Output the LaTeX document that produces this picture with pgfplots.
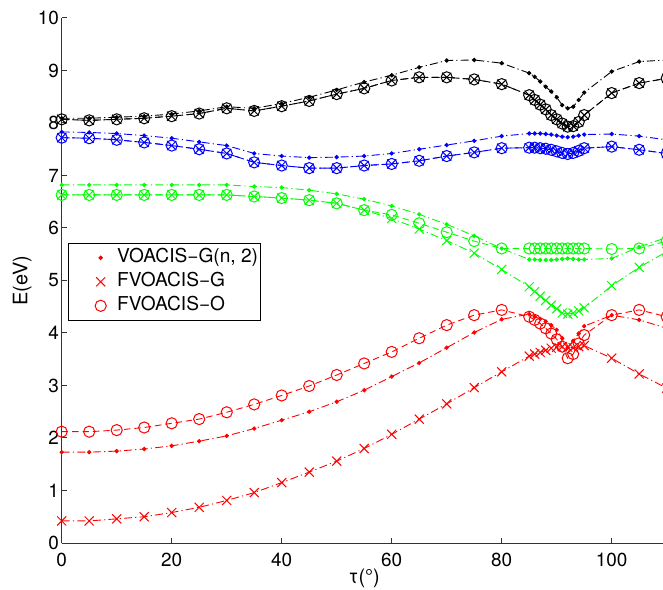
\documentclass[border=0pt]{standalone}
\usepackage{fontspec}
\setmainfont{TeX Gyre Heros}
\usepackage{pgfplots}
\usepackage{pgfplotstable}
\pgfplotsset{compat=1.18}

\definecolor{mred}{rgb}{1,0,0}
\definecolor{mgreen}{rgb}{0,1,0}
\definecolor{mblue}{rgb}{0,0,1}

% Excitation energies against the torsion angle tau.
% kd/bd/gd/rd : VOACIS-G(n,2)   kc/bc/gc/rc : FVOACIS-O   gx/rx : FVOACIS-G
\pgfplotstableread{
t    kd    kc    bd    bc    gd    gc    gx    rd    rc    rx
0    8.09  8.07  7.83  7.72  6.82  6.63  6.63  1.73  2.12  0.42
5    8.09  8.05  7.82  7.71  6.82  6.63  6.63  1.73  2.12  0.42
10   8.11  8.07  7.80  7.68  6.82  6.63  6.63  1.75  2.15  0.46
15   8.13  8.09  7.76  7.63  6.82  6.63  6.63  1.79  2.20  0.50
20   8.17  8.13  7.71  7.57  6.82  6.63  6.63  1.85  2.28  0.58
25   8.23  8.18  7.64  7.50  6.82  6.63  6.63  1.94  2.36  0.68
30   8.31  8.28  7.57  7.42  6.82  6.63  6.63  2.04  2.49  0.81
35   8.28  8.23  7.42  7.25  6.79  6.60  6.60  2.18  2.64  0.96
40   8.37  8.32  7.37  7.19  6.77  6.57  6.57  2.34  2.81  1.15
45   8.49  8.42  7.34  7.14  6.72  6.53  6.53  2.50  2.99  1.35
50   8.63  8.55  7.35  7.14  6.65  6.47  6.47  2.69  3.20  1.56
55   8.78  8.66  7.37  7.19  6.55  6.34  6.34  2.91  3.42  1.80
60   8.91  8.81  7.42  7.22  6.42  6.25  6.18  3.17  3.64  2.07
65   9.06  8.87  7.50  7.28  6.26  6.09  5.98  3.43  3.90  2.36
70   9.19  8.87  7.58  7.37  6.07  5.92  5.76  3.72  4.15  2.65
75   9.20  8.83  7.66  7.44  5.85  5.75  5.52  4.01  4.34  2.96
80   9.14  8.74  7.75  7.52  5.61  5.61  5.21  4.26  4.44  3.26
85   8.95  8.53  7.80  7.53  5.40  5.61  4.88  4.36  4.31  3.56
86   8.88  8.44  7.80  7.53  5.40  5.61  4.79  4.31  4.25  3.60
87   8.79  8.35  7.80  7.52  5.39  5.61  4.70  4.27  4.18  3.63
88   8.69  8.26  7.79  7.51  5.39  5.61  4.62  4.22  4.09  3.67
89   8.60  8.15  7.78  7.49  5.39  5.61  4.53  4.15  3.99  3.71
90   8.49  8.07  7.76  7.46  5.40  5.61  4.46  4.06  3.88  3.73
91   8.34  7.99  7.74  7.43  5.41  5.61  4.38  3.90  3.74  3.74
92   8.28  7.93  7.73  7.41  5.42  5.61  4.36  3.72  3.52  3.73
93   8.31  7.94  7.74  7.43  5.41  5.61  4.38  3.85  3.60  3.72
94   8.44  8.02  7.76  7.47  5.40  5.61  4.42  3.99  3.80  3.74
95   8.58  8.15  7.78  7.52  5.40  5.61  4.48  4.13  3.96  3.76
100  8.98  8.57  7.79  7.55  5.42  5.60  4.90  4.34  4.34  3.52
105  9.17  8.76  7.75  7.49  5.64  5.61  5.25  4.25  4.44  3.22
110  9.20  8.85  7.68  7.42  5.82  5.75  5.55  4.09  4.31  2.95
}\energies

\tikzset{
  dashdot/.style={dash pattern=on 4bp off 1.6bp on 0.6bp off 1.6bp},
  longdash/.style={dash pattern=on 3.2bp off 2bp},
}
\pgfplotsset{
  dotser/.style={dashdot, line width=0.45bp, mark=*, mark size=0.85bp, mark options={solid}},
  xser/.style={dashdot, line width=0.45bp, mark=x, mark size=3.2bp, mark options={solid, line width=0.5bp}},
  oser/.style={longdash, line width=0.45bp, mark=o, mark size=2.8bp, mark options={solid, line width=0.5bp}},
}

\begin{document}
\begin{tikzpicture}
\useasboundingbox (0,0) rectangle (331.5bp,295bp);
\clip (0,0) rectangle (331.5bp,295bp);
\begin{axis}[
  at={(30.85bp,23.5bp)}, anchor=south west,
  scale only axis, width=302.5bp, height=262.5bp,
  xmin=0, xmax=110, ymin=0, ymax=10,
  axis x line*=bottom, axis y line*=left,
  xtick={0,20,...,100}, ytick={0,1,...,10},
  tick align=inside, major tick length=2.5bp,
  axis line style={line width=0.5bp, black!80},
  every tick/.style={black!80, line width=0.5bp},
  tick label style={font=\fontsize{9.5}{11}\selectfont},
  /pgf/number format/assume math mode=true,
  xticklabel style={inner sep=0pt, anchor=north, yshift=-4.8bp},
  yticklabel style={inner sep=0pt, anchor=east, xshift=-1.2bp},
  xlabel={τ(°)},
  ylabel={E(eV)},
  label style={font=\fontsize{10}{12}\selectfont},
  xlabel style={at={(axis description cs:0.5,0)}, anchor=center, yshift=-17.5bp},
  ylabel style={at={(axis description cs:0,0.5)}, anchor=center, yshift=19.8bp},
  clip=false,
  legend cell align=left,
  legend image code/.code={\path (-15.7bp,0bp) (7bp,0bp); \draw[#1] plot coordinates {(0bp,0bp)};},
  legend style={at={(axis cs:1.2,5.72)}, anchor=north west, draw=black,
    line width=0.5bp, font=\fontsize{9.6}{11.5}\selectfont,
    inner xsep=0bp, inner ysep=1.75bp, row sep=0.9bp, column sep=0bp,
    nodes={inner xsep=1bp, inner ysep=0.8bp, text height=7.2bp, text depth=2.3bp}},
]
\addlegendimage{mred, only marks, mark=*, mark size=0.85bp}
\addlegendentry{VOACIS−G(n, 2)}
\addlegendimage{mred, only marks, mark=x, mark size=3.2bp, mark options={line width=0.5bp}}
\addlegendentry{FVOACIS−G}
\addlegendimage{mred, only marks, mark=o, mark size=2.8bp, mark options={line width=0.5bp}}
\addlegendentry{FVOACIS−O}

% red
\addplot[mred, dotser, forget plot] table[x=t, y=rd] {\energies};
\addplot[mred, xser, forget plot] table[x=t, y=rx] {\energies};
\addplot[mred, oser, forget plot] table[x=t, y=rc] {\energies};
% green
\addplot[mgreen, dotser, forget plot] table[x=t, y=gd] {\energies};
\addplot[mgreen, xser, forget plot] table[x=t, y=gx] {\energies};
\addplot[mgreen, oser, forget plot] table[x=t, y=gc] {\energies};
% blue (FVOACIS-G and FVOACIS-O coincide)
\addplot[mblue, dotser, forget plot] table[x=t, y=bd] {\energies};
\addplot[mblue, xser, forget plot] table[x=t, y=bc] {\energies};
\addplot[mblue, oser, forget plot] table[x=t, y=bc] {\energies};
% black (FVOACIS-G and FVOACIS-O coincide)
\addplot[black, dotser, forget plot] table[x=t, y=kd] {\energies};
\addplot[black, xser, forget plot] table[x=t, y=kc] {\energies};
\addplot[black, oser, forget plot] table[x=t, y=kc] {\energies};
\end{axis}
\end{tikzpicture}
\end{document}
